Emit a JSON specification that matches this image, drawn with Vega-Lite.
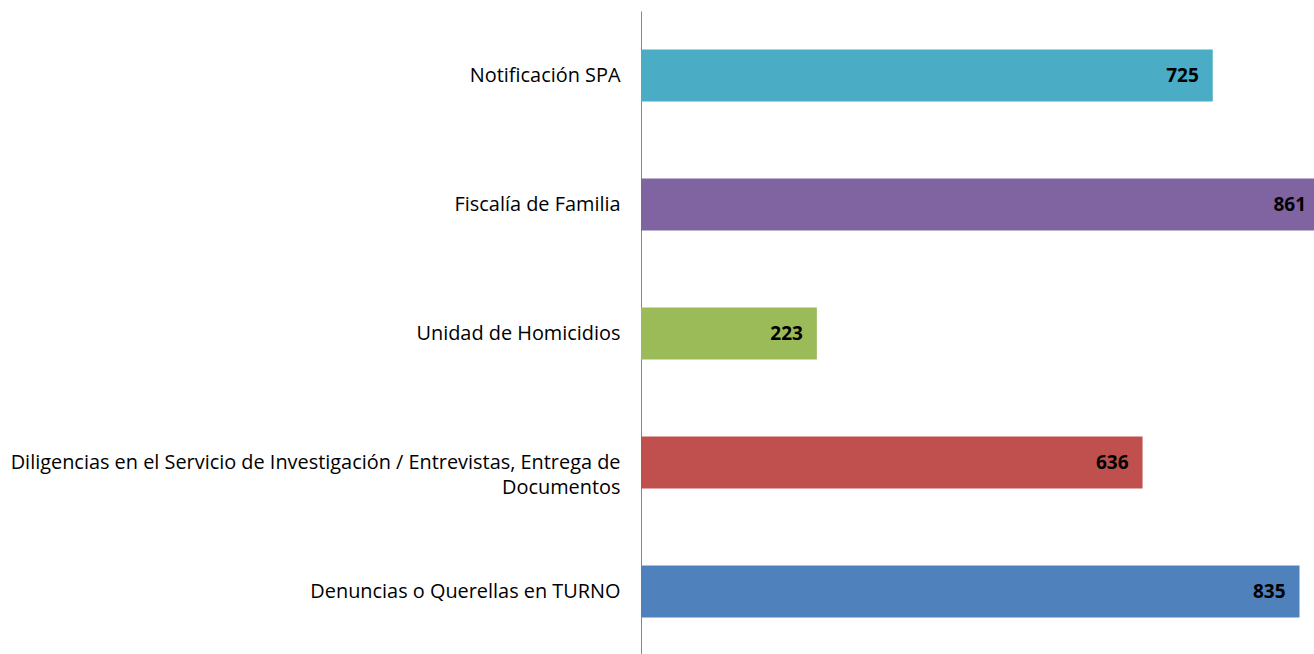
{
  "$schema": "https://vega.github.io/schema/vega-lite/v6.json",
  "autosize": {"type": "none"},
  "padding": {"left": 641, "top": 11, "right": 0, "bottom": 0},
  "width": 679,
  "height": 645,
  "background": "white",
  "config": {"view": {"stroke": null}, "font": "Open Sans"},
  "data": {"values": [
    {"cat": "Notificación SPA", "value": 725, "color": "#4BACC6"},
    {"cat": "Fiscalía de Familia", "value": 861, "color": "#8064A2"},
    {"cat": "Unidad de Homicidios", "value": 223, "color": "#9BBB59"},
    {"cat": "Diligencias en el Servicio de Investigación / Entrevistas, Entrega de Documentos", "value": 636, "color": "#C0504D"},
    {"cat": "Denuncias o Querellas en TURNO", "value": 835, "color": "#4F81BD"}
  ]},
  "encoding": {
    "y": {
      "field": "cat", "type": "nominal", "sort": null,
      "scale": {"paddingInner": 0.597, "paddingOuter": 0.2985},
      "axis": {
        "title": null, "ticks": false, "domain": true, "domainColor": "#868686", "domainWidth": 1,
        "labelFont": "Open Sans", "labelFontSize": 19.9, "labelColor": "#000000", "labelPadding": 21,
        "labelLimit": 700, "labelLineHeight": 25,
        "labelExpr": "datum.value == 'Diligencias en el Servicio de Investigación / Entrevistas, Entrega de Documentos' ? ['Diligencias en el Servicio de Investigación / Entrevistas, Entrega de', 'Documentos' + pad('', 47, '\u00a0')] : datum.value"
      }
    },
    "x": {
      "field": "value", "type": "quantitative",
      "scale": {"domain": [0, 861], "nice": false},
      "axis": null
    }
  },
  "layer": [
    {"mark": {"type": "bar"}, "encoding": {"color": {"field": "color", "type": "nominal", "scale": null, "legend": null}}},
    {"mark": {"type": "text", "align": "right", "baseline": "middle", "dx": -14, "font": "Open Sans", "fontSize": 19, "fontWeight": "bold", "color": "#000000"},
     "encoding": {"text": {"field": "value", "type": "quantitative"}}}
  ]
}
